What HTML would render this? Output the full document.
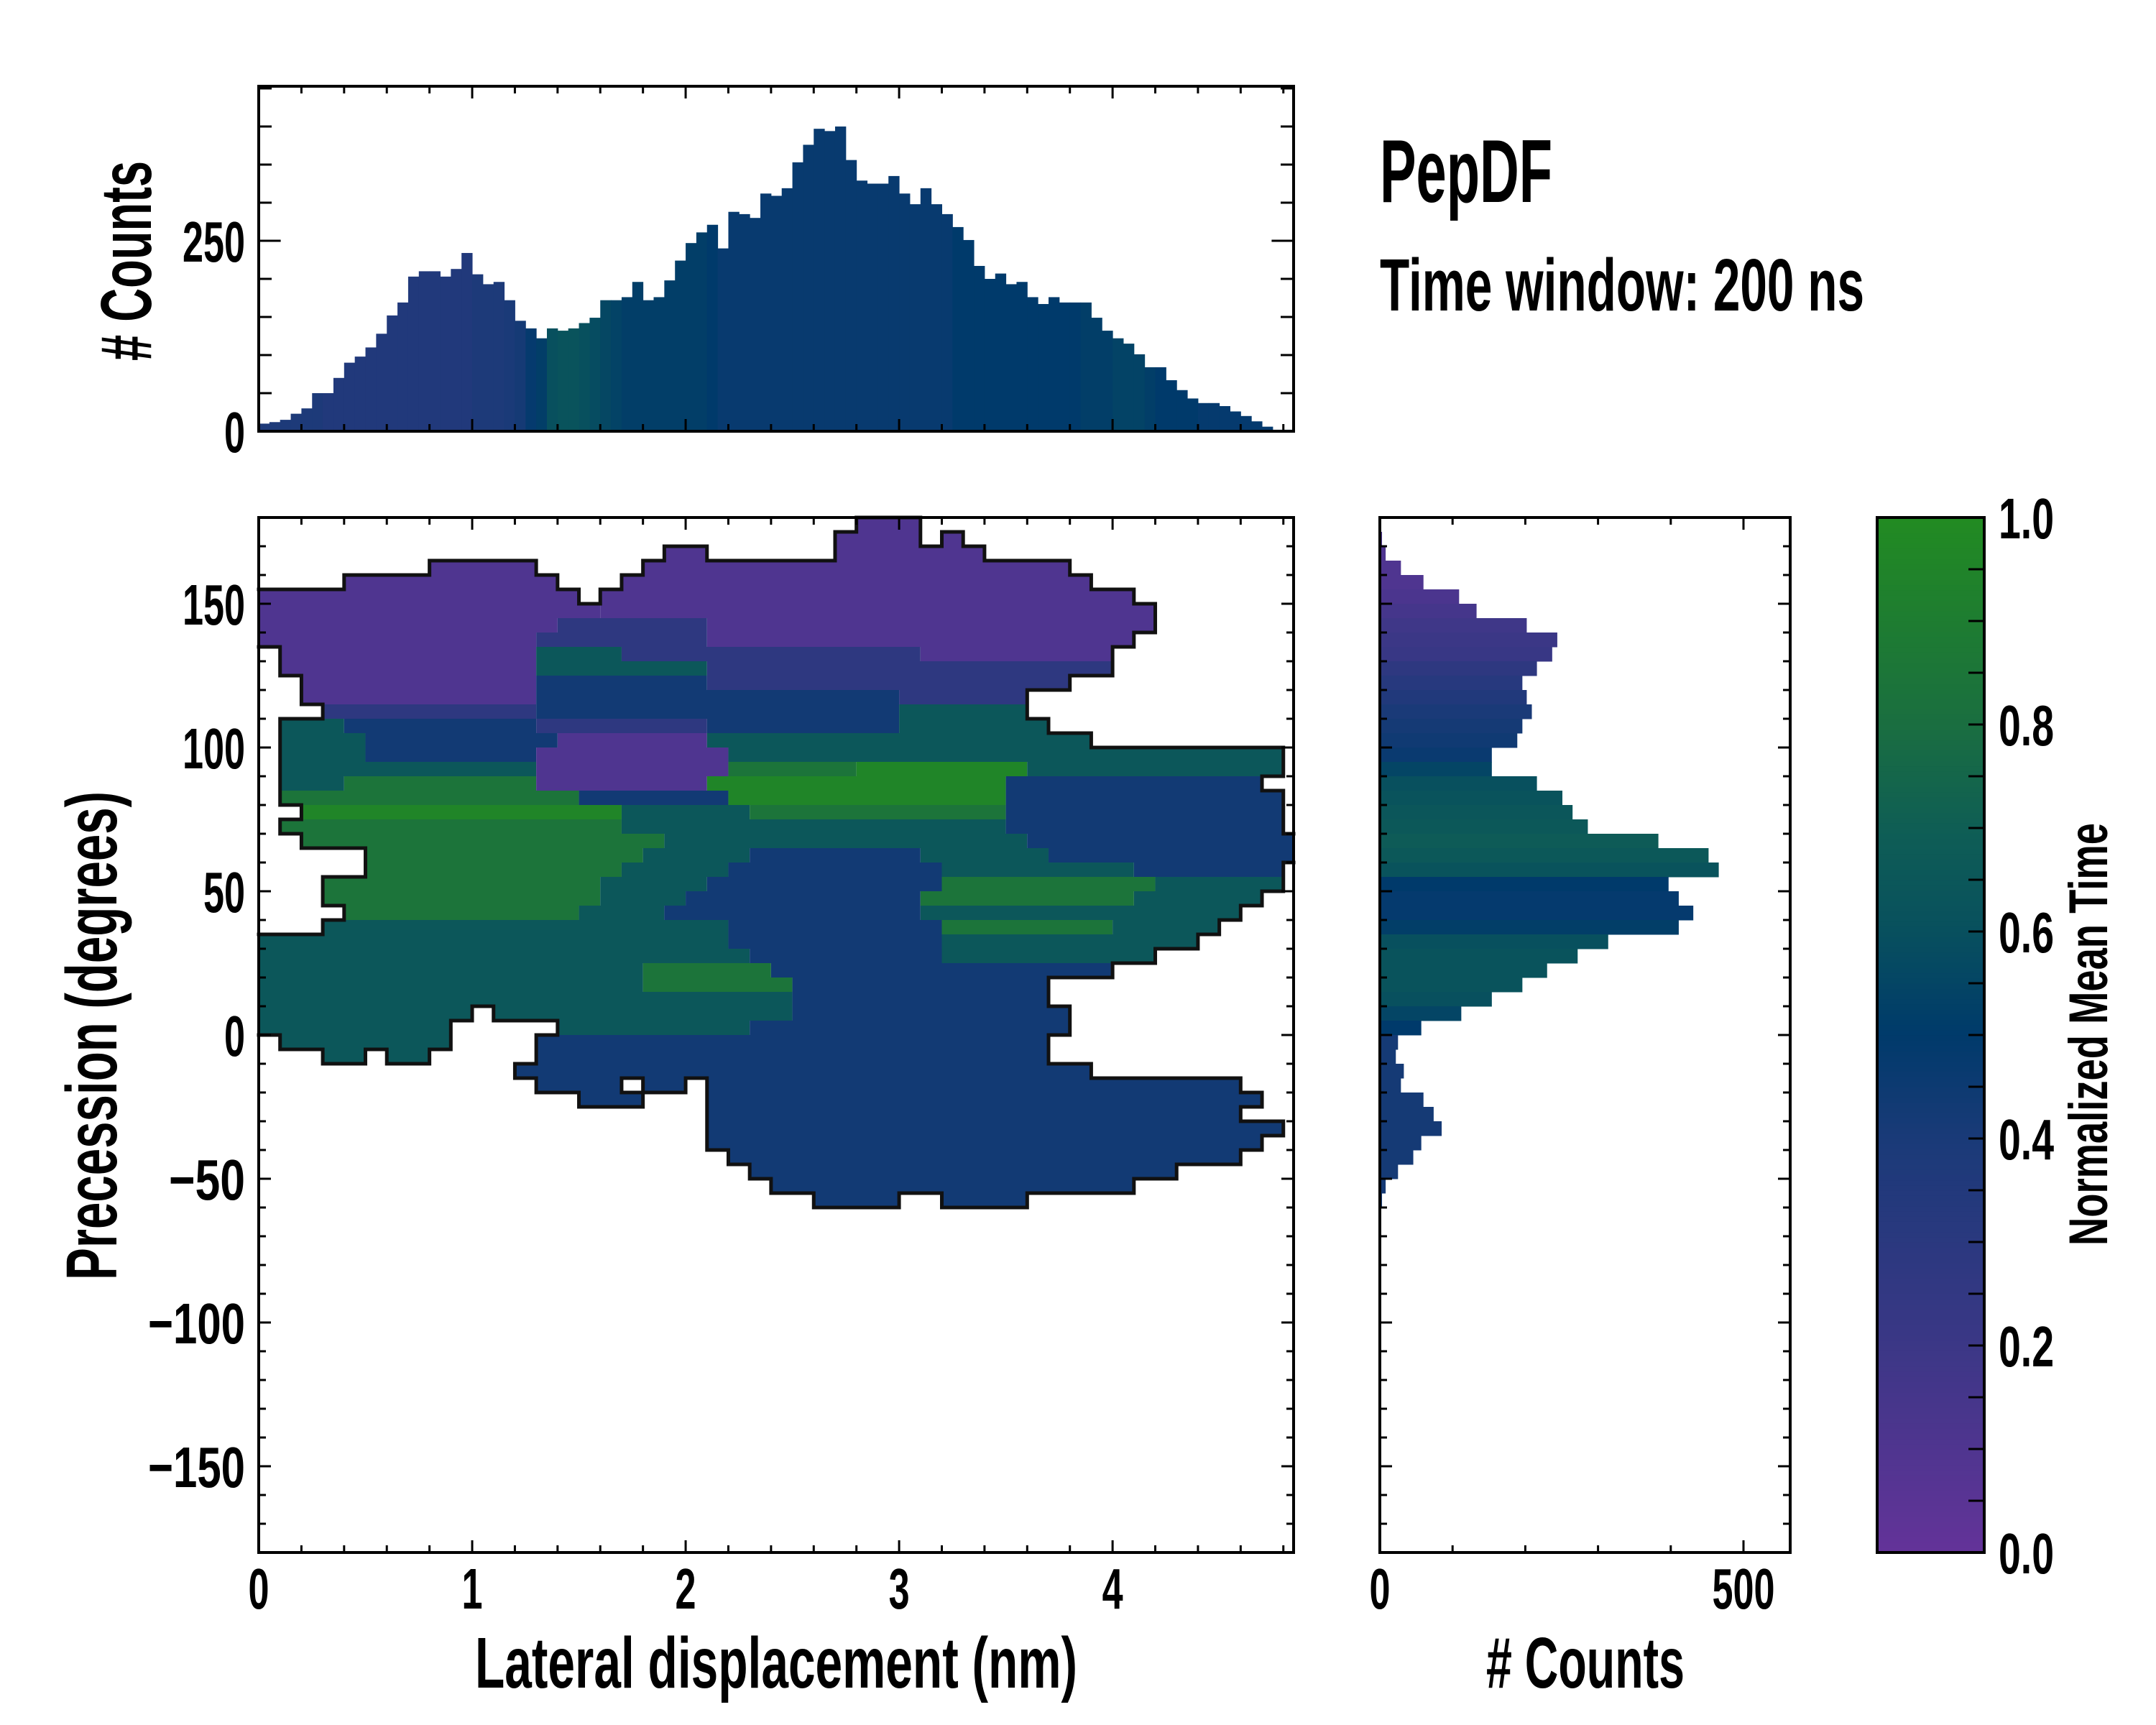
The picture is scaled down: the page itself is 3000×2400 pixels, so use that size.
<!DOCTYPE html>
<html><head><meta charset="utf-8"><style>
html,body{margin:0;padding:0;background:#fff;}
svg{display:block;}
text{font-family:"Liberation Sans Narrow","Liberation Sans",sans-serif;font-weight:bold;fill:#000;}
</style></head><body>
<svg id="fig" xmlns="http://www.w3.org/2000/svg" width="3000" height="2400" viewBox="0 0 3000 2400">
<rect x="0" y="0" width="3000" height="2400" fill="#fff"/>
<g id="heat"></g>
<g id="outline"></g>
<g id="topbars"></g>
<g id="rightbars"></g>
<g id="cbar"></g>
<g id="axes"></g>
<g id="labels">
<text x="1920" y="281" font-size="124" textLength="240" lengthAdjust="spacingAndGlyphs">PepDF</text>
<text x="1920" y="432" font-size="103" textLength="674" lengthAdjust="spacingAndGlyphs">Time window: 200 ns</text>
<text x="1080" y="2348" font-size="100" text-anchor="middle" textLength="838" lengthAdjust="spacingAndGlyphs">Lateral displacement (nm)</text>
<text transform="translate(162,1441) rotate(-90)" font-size="100" text-anchor="middle" textLength="680" lengthAdjust="spacingAndGlyphs">Precession (degrees)</text>
<text transform="translate(210,363) rotate(-90)" font-size="100" text-anchor="middle" textLength="278" lengthAdjust="spacingAndGlyphs"># Counts</text>
<text x="2206" y="2348" font-size="100" text-anchor="middle" textLength="276" lengthAdjust="spacingAndGlyphs"># Counts</text>
<text transform="translate(2932,1439) rotate(-90)" font-size="76" text-anchor="middle" textLength="588" lengthAdjust="spacingAndGlyphs">Normalized Mean Time</text>
</g>
</svg>
<script>
// ---------- data ----------
const topBinStart = 0, topBinWidth = 0.05;
const topCounts = [10,12,15,23,30,50,50,70,90,98,110,128,152,169,203,210,210,203,213,234,206,193,196,172,145,135,122,135,132,135,142,149,172,172,176,196,172,176,198,224,247,261,271,240,288,285,280,312,309,319,353,376,397,394,400,356,329,325,325,335,312,298,319,298,285,268,251,217,200,207,193,196,176,167,176,169,169,169,149,132,122,115,101,84,84,67,54,43,37,37,33,26,20,13,6,2,2];
const topMean = [0.38,0.38,0.38,0.38,0.38,0.38,0.36,0.36,0.36,0.36,0.36,0.36,0.36,0.36,0.36,0.36,0.36,0.36,0.36,0.36,0.38,0.38,0.38,0.40,0.42,0.48,0.52,0.6,0.62,0.62,0.6,0.58,0.56,0.54,0.52,0.52,0.52,0.52,0.52,0.52,0.52,0.52,0.5,0.47,0.47,0.47,0.47,0.47,0.47,0.47,0.47,0.47,0.47,0.47,0.47,0.47,0.47,0.47,0.47,0.47,0.47,0.47,0.47,0.47,0.47,0.5,0.5,0.5,0.5,0.5,0.5,0.5,0.5,0.5,0.5,0.5,0.5,0.52,0.52,0.52,0.54,0.54,0.54,0.52,0.5,0.5,0.5,0.5,0.48,0.48,0.48,0.48,0.48,0.48,0.48,0.48,0.48];
const rightBinTop = 175, rightBinWidth = 5;
const rightCounts = [3,8,29,60,109,133,202,244,237,216,196,202,209,196,189,154,154,216,251,265,286,383,452,466,397,411,431,411,314,272,230,196,154,112,57,25,22,33,29,60,74,85,57,46,25,8,3];
const rightMean = [0.1,0.1,0.1,0.1,0.12,0.15,0.18,0.2,0.22,0.28,0.32,0.36,0.4,0.42,0.44,0.46,0.55,0.6,0.62,0.64,0.66,0.68,0.66,0.62,0.5,0.48,0.48,0.52,0.6,0.62,0.62,0.62,0.6,0.55,0.5,0.42,0.42,0.42,0.42,0.42,0.42,0.42,0.42,0.42,0.42,0.42,0.42];
// heatmap: cells 0.1 nm x 5 deg, row r spans [180-5(r+1), 180-5r]; segments [colStart, colEnd, level]
const cellWidthNm = 0.1, cellHeightDeg = 5;
const levelValue = {p:0.1, q:0.28, b:0.43, t:0.65, g:0.84, G:0.96};
const heatRows = [
[[28,30,'p']],
[[27,30,'p'],[32,32,'p']],
[[19,20,'p'],[27,33,'p']],
[[8,12,'p'],[18,37,'p']],
[[4,13,'p'],[17,38,'p']],
[[0,14,'p'],[16,40,'p']],
[[0,15,'p'],[16,41,'p']],
[[0,13,'p'],[14,20,'q'],[21,41,'p']],
[[0,12,'p'],[13,20,'q'],[21,40,'p']],
[[1,12,'p'],[13,16,'t'],[17,30,'q'],[31,39,'p']],
[[1,12,'p'],[13,20,'t'],[21,39,'q']],
[[2,12,'p'],[13,20,'b'],[21,37,'q']],
[[2,12,'p'],[13,29,'b'],[30,35,'q']],
[[3,12,'q'],[13,29,'b'],[30,35,'t']],
[[1,3,'t'],[4,12,'b'],[13,20,'q'],[21,29,'b'],[30,36,'t']],
[[1,4,'t'],[5,13,'b'],[14,20,'p'],[21,38,'t']],
[[1,4,'t'],[5,12,'b'],[13,21,'p'],[22,47,'t']],
[[1,12,'t'],[13,21,'p'],[22,27,'g'],[28,35,'G'],[36,47,'t']],
[[1,3,'t'],[4,12,'g'],[13,20,'p'],[21,34,'G'],[35,46,'b']],
[[1,14,'g'],[15,21,'b'],[22,34,'G'],[35,47,'b']],
[[2,16,'G'],[17,22,'t'],[23,34,'g'],[35,47,'b']],
[[1,16,'g'],[17,34,'t'],[35,47,'b']],
[[2,18,'g'],[19,35,'t'],[36,48,'b']],
[[5,17,'g'],[18,22,'t'],[23,30,'b'],[31,36,'t'],[37,48,'b']],
[[5,16,'g'],[17,21,'t'],[22,31,'b'],[32,40,'t'],[41,47,'b']],
[[3,15,'g'],[16,20,'t'],[21,31,'b'],[32,41,'g'],[42,47,'t']],
[[3,15,'g'],[16,19,'t'],[20,30,'b'],[31,40,'g'],[41,46,'t']],
[[4,14,'g'],[15,18,'t'],[19,30,'b'],[31,45,'t']],
[[3,21,'t'],[22,31,'b'],[32,39,'g'],[40,44,'t']],
[[0,21,'t'],[22,31,'b'],[32,43,'t']],
[[0,22,'t'],[23,31,'b'],[32,41,'t']],
[[0,17,'t'],[18,23,'g'],[24,39,'b']],
[[0,17,'t'],[18,24,'g'],[25,36,'b']],
[[0,24,'t'],[25,36,'b']],
[[0,9,'t'],[11,24,'t'],[25,37,'b']],
[[0,8,'t'],[14,22,'t'],[23,37,'b']],
[[1,8,'t'],[13,36,'b']],
[[3,4,'t'],[6,7,'t'],[13,36,'b']],
[[12,38,'b']],
[[13,16,'b'],[18,19,'b'],[21,45,'b']],
[[15,17,'b'],[21,46,'b']],
[[21,45,'b']],
[[21,47,'b']],
[[21,46,'b']],
[[22,45,'b']],
[[23,42,'b']],
[[24,40,'b']],
[[26,29,'b'],[32,35,'b']]
];
const xTicks = [0,1,2,3,4];
const yTicks = [-150,-100,-50,0,50,100,150];
const topYTicks = [0,250];
const rightXTicks = [0,500];
const cbarTicks = [0,0.2,0.4,0.6,0.8,1.0];

// ---------- scales ----------
const NS='http://www.w3.org/2000/svg';
const MX0=360, MX1=1800, MY0=720, MY1=2160;
const xMax = 4.848;
function xS(v){return MX0 + v*(MX1-MX0)/xMax;}
function yS(d){return MY0 + (180-d)*(MY1-MY0)/360;}
const TY0=120, TY1=600;
function yT(c){return TY1 - c*1.06;}
const RX0=1920, RX1=2491;
function xR(c){return RX0 + c*1.012;}
const CX0=2612, CX1=2761;
function yC(v){return MY1 - v*(MY1-MY0);}

const stops=[[0,[99,51,153]],[0.2,[59,55,134]],[0.4,[26,58,120]],[0.5,[0,58,107]],[0.6,[8,80,94]],[0.7,[15,94,85]],[0.8,[26,110,64]],[1,[34,139,34]]];
function cmap(v){
  v=Math.max(0,Math.min(1,v));
  for(let i=0;i<stops.length-1;i++){
    const a=stops[i],b=stops[i+1];
    if(v<=b[0]){const t=(v-a[0])/(b[0]-a[0]);
      const c=a[1].map((x,k)=>Math.round(x+(b[1][k]-x)*t));
      return 'rgb('+c.join(',')+')';}
  }
  return 'rgb(34,139,34)';
}
function el(tag,attrs,parent){const e=document.createElementNS(NS,tag);for(const k in attrs)e.setAttribute(k,attrs[k]);parent.appendChild(e);return e;}

// ---------- heatmap ----------
const heat=document.getElementById('heat');
const filled={};
heatRows.forEach((segs,r)=>{
  segs.forEach(s=>{
    const x0=xS(s[0]*cellWidthNm), x1=xS((s[1]+1)*cellWidthNm);
    const y0=yS(180-r*cellHeightDeg), y1=yS(180-(r+1)*cellHeightDeg);
    const rc=el('rect',{x:x0,y:y0,width:Math.min(x1,MX1)-x0,height:y1-y0,fill:cmap(levelValue[s[2]])},heat);
    
    
    for(let c=s[0];c<=s[1];c++)filled[r+','+c]=true;
  });
});
const outline=document.getElementById('outline');
let d='';
heatRows.forEach((segs,r)=>{
  segs.forEach(s=>{
    for(let c=s[0];c<=s[1];c++){
      const x0=xS(c*cellWidthNm), x1=Math.min(xS((c+1)*cellWidthNm),MX1);
      const y0=yS(180-r*cellHeightDeg), y1=yS(180-(r+1)*cellHeightDeg);
      if(!filled[(r-1)+','+c]) d+='M'+x0+' '+y0+'H'+x1;
      if(!filled[(r+1)+','+c]) d+='M'+x0+' '+y1+'H'+x1;
      if(!filled[r+','+(c-1)] && c>0) d+='M'+x0+' '+y0+'V'+y1;
      if(!filled[r+','+(c+1)] && x1<MX1) d+='M'+x1+' '+y0+'V'+y1;
    }
  });
});
const op=el('path',{d:d,stroke:'#111',"stroke-width":5,fill:'none',"stroke-linecap":'square'},outline);



// ---------- top histogram ----------
const tb=document.getElementById('topbars');
topCounts.forEach((c,i)=>{
  const x0=xS(topBinStart+i*topBinWidth), x1=Math.min(xS(topBinStart+(i+1)*topBinWidth),MX1);
  const r=el('rect',{x:x0,y:yT(c),width:x1-x0+0.5,height:TY1-yT(c),fill:cmap(topMean[i])},tb);
  
  
});
// ---------- right histogram ----------
const rb=document.getElementById('rightbars');
rightCounts.forEach((c,i)=>{
  const y0=yS(rightBinTop-i*rightBinWidth), y1=yS(rightBinTop-(i+1)*rightBinWidth);
  const r=el('rect',{x:RX0,y:y0,width:xR(c)-RX0,height:y1-y0+0.5,fill:cmap(rightMean[i])},rb);
  
  
});
// ---------- colorbar ----------
const cb=document.getElementById('cbar');
for(let i=0;i<200;i++){
  const v0=i/200, v1=(i+1)/200;
  const r=el('rect',{x:CX0,y:yC(v1),width:CX1-CX0,height:yC(v0)-yC(v1)+0.6,fill:cmap((v0+v1)/2)},cb);
  
  
}

// ---------- axes ----------
const ax=document.getElementById('axes');
function frame(x0,y0,x1,y1,name){
  const r=el('rect',{x:x0,y:y0,width:x1-x0,height:y1-y0,fill:'none',stroke:'#000',"stroke-width":4},ax);
  
  
}
function tickLine(x1,y1,x2,y2){el('line',{x1:x1,y1:y1,x2:x2,y2:y2,stroke:'#000',"stroke-width":3},ax);}
function txtWidth(s){let w=0;for(const ch of s){w+= ch==='.'?19:(ch==='\u2212'?48:29);}return w;}
function label(x,y,txt,anchor,fs,name){
  const t=el('text',{x:x,y:y,"font-size":fs,"text-anchor":anchor,textLength:txtWidth(txt),lengthAdjust:'spacingAndGlyphs'},ax);
  t.textContent=txt;
  
  
}
const MAJ=17, MIN=10, FS=80, CAPH=0.36*FS;
function fmtNeg(v){return v<0?'\u2212'+Math.abs(v):String(v);}
for(let v=0;v<=xMax+1e-9;v+=0.2){const vv=Math.round(v*10)/10;const L=(Math.abs(vv-Math.round(vv))<1e-6)?MAJ:MIN;const x=xS(vv);
  tickLine(x,MY1,x,MY1-L);tickLine(x,MY0,x,MY0+L);tickLine(x,TY1,x,TY1-L);tickLine(x,TY0,x,TY0+L);}
xTicks.forEach(v=>label(xS(v),2238,String(v),'middle',FS,'x-tick-label'));
for(let v=-180;v<=180;v+=10){const L=(v%50===0)?MAJ:MIN;const y=yS(v);
  tickLine(MX0,y,MX0+L,y);tickLine(MX1,y,MX1-L,y);tickLine(RX0,y,RX0+L,y);tickLine(RX1,y,RX1-L,y);}
yTicks.forEach(v=>label(341,yS(v)+CAPH,fmtNeg(v),'end',FS,'y-tick-label'));
for(let c=0;c<=450;c+=50){const L=(c%250===0)?MAJ*1.8:MIN*1.8;const y=yT(c);
  tickLine(MX0,y,MX0+L,y);tickLine(MX1,y,MX1-L,y);}
topYTicks.forEach(v=>label(341,yT(v)+CAPH,String(v),'end',FS,'top-hist-y-tick-label'));
for(let c=0;c<=560;c+=100){const L=(c%500===0)?MAJ:MIN;const x=xR(c);
  tickLine(x,MY1,x,MY1-L);tickLine(x,MY0,x,MY0+L);}
rightXTicks.forEach(v=>label(xR(v),2238,String(v),'middle',FS,'right-hist-x-tick-label'));
for(let i=1;i<20;i++){const y=yC(i/20);tickLine(CX1,y,CX1-22,y);}
cbarTicks.forEach(v=>label(2781,yC(v)+CAPH,v.toFixed(1),'start',FS,'colorbar-tick-label'));
frame(MX0,MY0,MX1,MY1,'main-axes-frame');
frame(MX0,TY0,MX1,TY1,'top-hist-frame');
frame(RX0,MY0,RX1,MY1,'right-hist-frame');
frame(CX0,MY0,CX1,MY1,'colorbar-frame');
</script>
</body></html>
